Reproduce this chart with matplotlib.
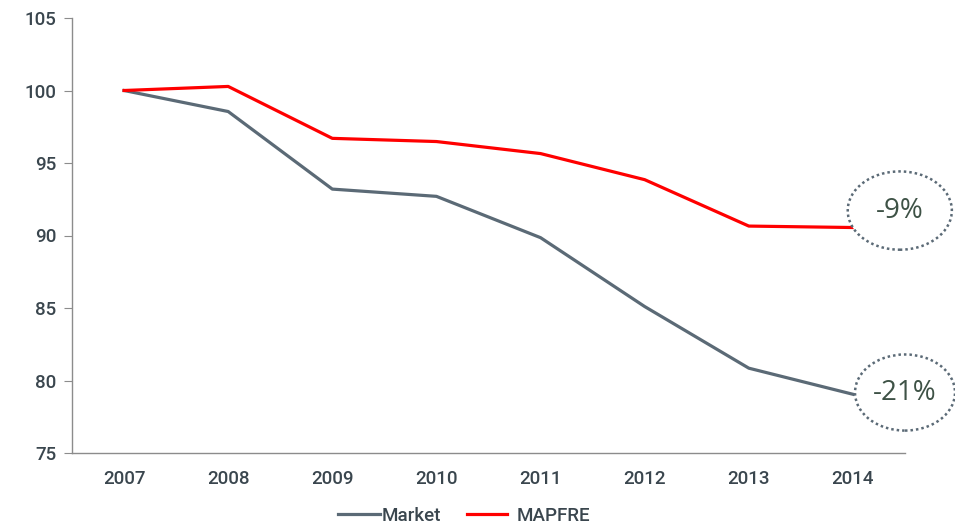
import matplotlib
matplotlib.use("Agg")
import matplotlib.pyplot as plt
from matplotlib.patches import Ellipse

years = ["2007", "2008", "2009", "2010", "2011", "2012", "2013", "2014"]
market = [100.0, 98.55, 93.2, 92.7, 89.85, 85.1, 80.85, 79.05]
mapfre = [100.0, 100.28, 96.7, 96.48, 95.65, 93.85, 90.65, 90.55]
labels = ["-9%", "-21%"]

plt.rcParams['font.family'] = ['Roboto', 'Liberation Sans', 'DejaVu Sans']
plt.rcParams['font.weight'] = 'medium'

fig = plt.figure(figsize=(9.55, 5.28), dpi=100)
ax = fig.add_axes([72/955, (528-453)/528, (905-72)/955, (453-18)/528])

x = list(range(len(years)))
l1, = ax.plot(x, market, color="#5b6a76", lw=2.3, label="Market", zorder=2)
l2, = ax.plot(x, mapfre, color="#ff0000", lw=2.3, label="MAPFRE", zorder=2)

ax.set_xlim(-0.5, len(years) - 0.5)
ax.set_ylim(75, 105)
ax.set_yticks([75, 80, 85, 90, 95, 100, 105])
ax.set_xticks(x)
ax.set_xticklabels(years)
for s in ["top", "right"]:
    ax.spines[s].set_visible(False)
for s in ["left", "bottom"]:
    ax.spines[s].set_color("#8c8c8c")
    ax.spines[s].set_linewidth(1.0)
ax.tick_params(axis="y", length=6, color="#8c8c8c", labelsize=13.5, labelcolor="#3a464e", pad=5)
ax.tick_params(axis="x", length=0, labelsize=13.5, labelcolor="#3a464e", pad=12)

# annotation ellipses
ells = [((7.45, 91.72), 1.0, 5.4, labels[0]), ((7.5, 79.17), 0.96, 5.25, labels[1])]
for (cx, cy), w, h, t in ells:
    e = Ellipse((cx, cy), w, h, facecolor="white", edgecolor="#5b6a76", lw=1.8,
                linestyle=(0, (1, 1.2)), clip_on=False, zorder=3)
    ax.add_patch(e)
    ax.text(cx, cy, t, ha="center", va="center", fontsize=20, color="#3e5246",
            family=["Open Sans", "DejaVu Sans"], fontweight="normal", zorder=4, clip_on=False)

ly = (528 - 516) / 528
leg1 = fig.legend([l1], ["Market"], loc="center left", bbox_to_anchor=(338/955, ly),
                  frameon=False, fontsize=13.5, handlelength=2.25, handletextpad=0.05,
                  borderpad=0, borderaxespad=0)
leg2 = fig.legend([l2], ["MAPFRE"], loc="center left", bbox_to_anchor=(467/955, ly),
                  frameon=False, fontsize=13.5, handlelength=2.15, handletextpad=0.5,
                  borderpad=0, borderaxespad=0)
for lg in (leg1, leg2):
    for t in lg.get_texts():
        t.set_color("#3a464e")

fig.savefig("out.png", dpi=100)
